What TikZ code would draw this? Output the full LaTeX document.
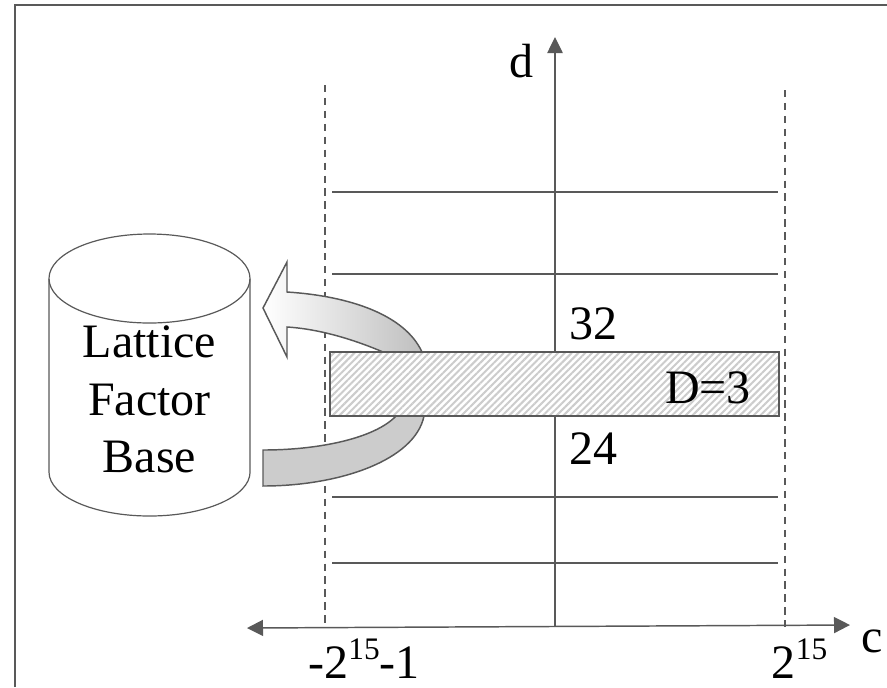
\documentclass[tikz,border=0pt]{standalone}
\usepackage{fontspec}
\setmainfont{Liberation Serif}
\usetikzlibrary{shapes.geometric, arrows.meta, positioning, patterns.meta}
\definecolor{linegray}{HTML}{595959}
\newcommand{\upnum}[1]{\raisebox{14pt}{\fontsize{23.5}{24}\selectfont #1}}

\begin{document}
\begin{tikzpicture}[
    x=0.75pt, y=-0.75pt,
    rule/.style={draw=linegray, line width=1.1pt},
    guide/.style={draw=linegray, line width=0.9pt, dash pattern=on 5.5pt off 4.2pt},
    axis/.style={rule, {Triangle[length=12pt, width=12pt]}-{Triangle[length=12pt, width=12pt]}},
    bentarrow/.style={draw=linegray, line width=1.1pt, line join=miter},
    label/.style={font=\fontsize{36}{43}\selectfont, inner sep=0pt, anchor=base, text=black}
]

\useasboundingbox (0,0) rectangle (887,687);

% frame, open at the right and at the bottom
\coordinate (frameb) at (15,687);
\coordinate (framec) at (15,5);
\coordinate (framer) at (887,5);
\draw[rule] (frameb) -- (framec) -- (framer);

% bounds of c
\coordinate (lefttop) at (325,85);
\coordinate (leftbot) at (325,627);
\coordinate (righttop) at (785,90);
\coordinate (rightbot) at (785,627);
\draw[guide] (lefttop) -- (leftbot);
\draw[guide] (righttop) -- (rightbot);

% axes
\coordinate (origin) at (555,627);
\coordinate (dtip) at (555,37);
\coordinate (cleft) at (247,628);
\coordinate (cright) at (850,625);
\draw[rule, -{Triangle[length=12pt, width=11.5pt]}] (origin) -- (dtip);
\draw[axis] (cleft) -- (cright);

% other lines of d
\foreach \ypos/\name in {192/a, 274/b, 497/c, 563/d} {
    \coordinate (line\name l) at (332,\ypos);
    \coordinate (line\name r) at (778,\ypos);
    \draw[rule] (line\name l) -- (line\name r);
}

% bent arrows
\draw[bentarrow, fill=black!20]
    (263,486) .. controls (340,486) and (415,460) .. (424,416)
    -- (396,416) .. controls (375,438) and (320,450) .. (263,450) -- cycle;
\draw[bentarrow, left color=white, right color=black!25]
    (263,308) -- (287,262) -- (287,292) .. controls (350,296) and (405,315) .. (422,352)
    -- (383,352) .. controls (355,340) and (320,329) .. (287,327) -- (287,357) -- cycle;

% the current line
\node[rule, minimum width=336.75pt, minimum height=48pt, inner sep=0pt,
      preaction={fill=white},
      preaction={pattern={Lines[angle=45, distance=3.6pt, line width=1.5pt]}, pattern color=black!20}]
    (lineD) at (554.5,384) {};

% store
\draw[draw=linegray, line width=0.9pt, fill=white]
    (49,279) -- (49,472) arc[start angle=180, end angle=360, x radius=75.4pt, y radius=33pt] -- (250,279);
\node[ellipse, draw=linegray, line width=0.9pt, minimum width=150.75pt, minimum height=66.75pt, inner sep=0pt]
    (store) at (149.5,278.5) {};

\node[label] (lattice) at (149.5,357) {Lattice};
\node[label] (factor) at (149.5,415) {Factor};
\node[label] (base) at (149.5,472) {Base};

\node[label] (dname) at (521,77) {d};
\node[label] (cname) at (872,652) {c};
\node[label] (upper) at (593,339) {32};
\node[label] (lower) at (593,464) {24};
\node[label] (depth) at (708,403) {D=3};
\node[label] (cmin) at (364,678) {-2\upnum{15}-1};
\node[label] (cmax) at (799.5,678) {2\upnum{15}};

\end{tikzpicture}
\end{document}
